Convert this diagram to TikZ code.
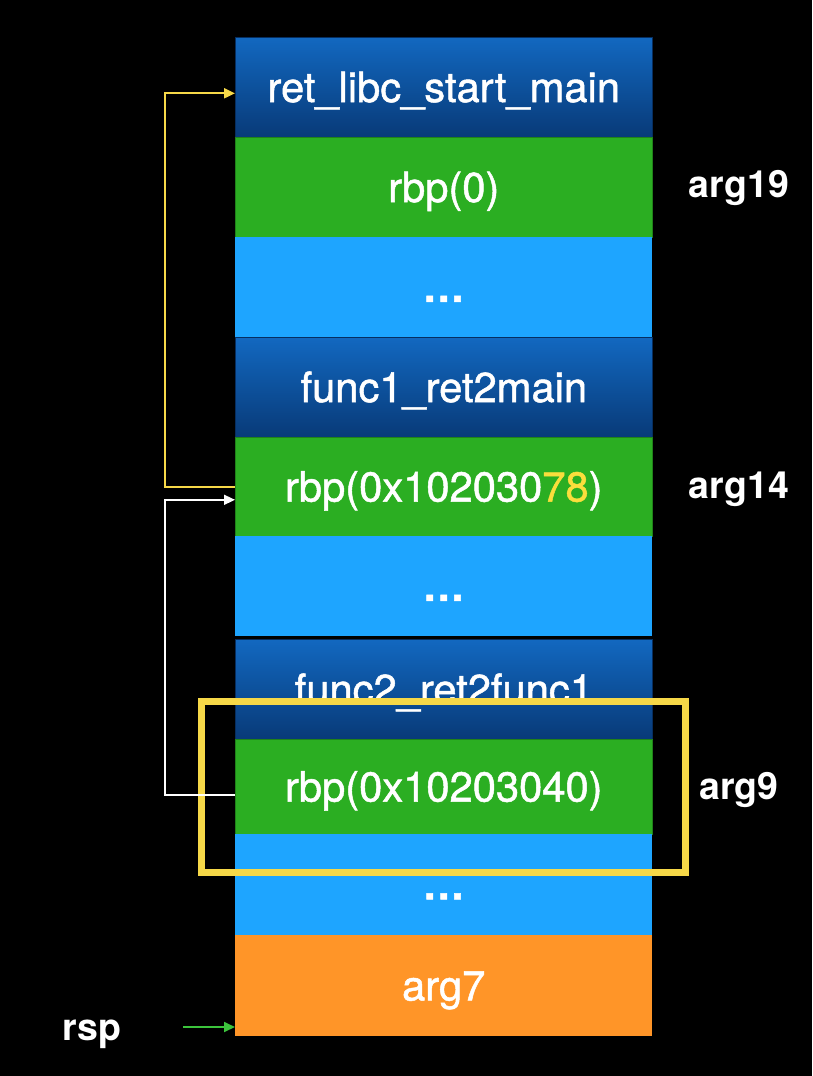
\documentclass[tikz,border=0pt]{standalone}
\usepackage{fontspec}
\setmainfont{TeX Gyre Heros}
\newfontfamily\cellfont[FakeBold=1.2]{TeX Gyre Heros}
\usetikzlibrary{arrows.meta}
\definecolor{dbtop}{RGB}{18,104,192}
\definecolor{dbbot}{RGB}{8,58,120}
\definecolor{lblue}{RGB}{30,165,255}
\definecolor{sgreen}{RGB}{43,174,34}
\definecolor{sorange}{RGB}{255,149,40}
\definecolor{hyellow}{RGB}{246,216,72}
\definecolor{nyellow}{RGB}{250,222,60}
\definecolor{agreen}{RGB}{60,196,60}
\begin{document}
\begin{tikzpicture}[x=1pt,y=-1pt,
  cell/.style={anchor=north west, minimum width=417pt, inner sep=0pt, text=white,
    text height=29.4pt, text depth=0pt, font=\cellfont\fontsize{41.7}{48}\selectfont},
  retcell/.style={cell, top color=dbtop, bottom color=dbbot, draw=dbbot!80!black, line width=0.6pt},
  rbpcell/.style={cell, fill=sgreen, draw=sgreen!75!black, line width=0.6pt},
  gapcell/.style={cell, fill=lblue},
  argcell/.style={cell, fill=sorange},
  sidelabel/.style={anchor=base, text=white, font=\fontsize{37.5}{44}\selectfont\bfseries},
  link/.style={line width=2pt, -{Triangle[length=11pt,width=10pt]}},
]
\useasboundingbox (0,0) rectangle (812,1076);
\fill[black] (0,0) rectangle (812,1076);

\node[retcell, minimum height=100pt] (r1) at (235,37) {ret\_libc\_start\_main};
\node[rbpcell, minimum height=100pt] (r2) at (235,137) {rbp(0)};
\node[gapcell, minimum height=100pt] (r3) at (235,237) {\textbf{…}};
\node[retcell, minimum height=100pt] (r4) at (235,337) {func1\_ret2main};
\node[rbpcell, minimum height=99pt] (r5) at (235,437) {rbp(0x102030{\color{nyellow}78})};
\node[gapcell, minimum height=100pt] (r6) at (235,536) {\textbf{…}};
\node[retcell, minimum height=100pt] (r7) at (235,639) {func2\_ret2func1};
\node[rbpcell, minimum height=95pt] (r8) at (235,739) {rbp(0x10203040)};
\node[gapcell, minimum height=101pt] (r9) at (235,834) {\textbf{…}};
\node[argcell, minimum height=101pt] (r10) at (235,935) {arg7};

\node[sidelabel] (a19) at (739,197) {arg19};
\node[sidelabel] (a14) at (739,498) {arg14};
\node[sidelabel] (a9) at (739,799) {arg9};
\node[sidelabel] (rsp) at (92,1040) {rsp};

\node[draw=hyellow, line width=7pt, inner sep=0pt, minimum width=484.5pt, minimum height=171pt] (hl) at (443.25,786.5) {};

\draw[link, hyellow] (r5.west) -- ++(-70,0) |- ([yshift=-6pt]r1.west);
\draw[link, white, line width=1.6pt] ([yshift=-8pt]r8.west) -- ++(-70,0) |- ([yshift=-13pt]r5.west);
\coordinate (rspa) at (183,1027);
\draw[link, agreen, line width=1.8pt] (rspa) -- (rspa -| r10.west);
\end{tikzpicture}
\end{document}
